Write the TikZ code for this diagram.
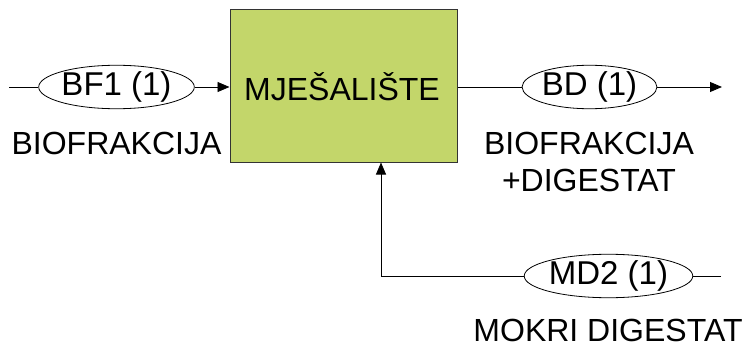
\documentclass[tikz,border=0pt]{standalone}
\usepackage{fontspec}
\setmainfont{Liberation Sans}
\usetikzlibrary{arrows.meta,shapes.geometric}
\definecolor{boxgreen}{HTML}{C3D66A}
\tikzset{
  x=1pt,y=-1pt,
  flowline/.style={draw=black,line width=0.9pt},
  arr/.style={flowline,-{Triangle[length=12pt,width=10pt]}},
  tag/.style={ellipse,draw=black,line width=0.8pt,fill=white,inner sep=0pt,font=\fontsize{33}{36}\selectfont},
  lbl/.style={font=\fontsize{32}{37}\selectfont,inner sep=0pt,align=center},
  mixbox/.style={draw=black!80,line width=1pt,fill=boxgreen,inner sep=0pt}
}
\begin{document}
\begin{tikzpicture}
\useasboundingbox (0,0) rectangle (748,345);
\node[mixbox,minimum width=227pt,minimum height=152pt] (box) at (343.5,86) {};
\node[lbl] (boxtxt) at (342,87) {MJEŠALIŠTE};
\coordinate (inL) at (9,87);
\node[tag,minimum width=147pt,minimum height=43pt] (bf) at (116.5,87) {BF1 (1)};
\draw[flowline] (inL) -- (bf.west);
\draw[arr] (bf.east) -- (box.west |- bf.east);
\node[lbl] (bflbl) at (116.5,143) {BIOFRAKCIJA};
\node[tag,minimum width=133pt,minimum height=43pt] (bd) at (589.5,87) {BD (1)};
\draw[flowline] (box.east |- bd.west) -- (bd.west);
\coordinate (outR) at (722,87);
\draw[arr] (bd.east) -- (outR);
\node[lbl] (bdlbl) at (589,161.5) {BIOFRAKCIJA\\+DIGESTAT};
\node[tag,minimum width=155pt,minimum height=42pt] (md) at (608.5,276) {MD2 (1)};
\coordinate (mdR) at (721,276);
\coordinate (corner) at (381,276);
\draw[flowline] (mdR) -- (md.east);
\draw[arr] (md.west) -- (corner) -- (corner |- box.south);
\node[lbl] (mdlbl) at (608,330) {MOKRI DIGESTAT};
\end{tikzpicture}
\end{document}
